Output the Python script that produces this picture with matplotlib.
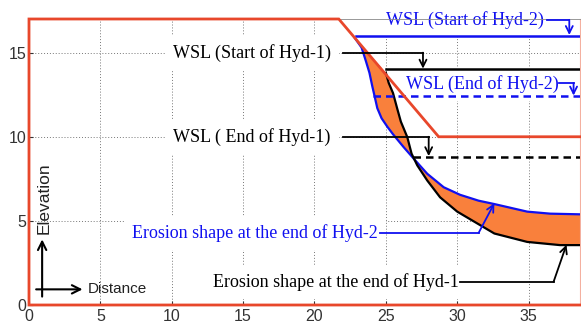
import matplotlib.pyplot as plt

# 坐标范围
x_max = 38.6
y_max = 17

# 河床线 (红色)
bed_x = [x_max, 0, 0, 21.7, 28.7, x_max]
bed_y = [0, 0, 17, 17, 10, 10]

# 水位线
wsl_start1_x = [25.0, x_max]
wsl_start1_y = [14.0, 14.0]
wsl_end1_x = [26.9, x_max]
wsl_end1_y = [8.8, 8.8]
wsl_start2_x = [22.9, x_max]
wsl_start2_y = [16.0, 16.0]
wsl_end2_x = [24.1, x_max]
wsl_end2_y = [12.4, 12.4]

# 冲刷形状 Hyd-2 (蓝色)
ero2_x = [22.8, 23.3, 23.6, 23.85, 24.05, 24.2, 24.4, 24.7, 25.1, 25.5, 26.25,
          26.95, 27.9, 29.05, 30.2, 31.5, 32.6, 34.9, 36.5, 38.6]
ero2_y = [15.9, 15.3, 14.5, 13.8, 13.0, 12.45, 11.7, 11.1, 10.6, 10.15, 9.38,
          8.7, 7.8, 7.0, 6.55, 6.2, 6.0, 5.55, 5.43, 5.39]

# 冲刷形状 Hyd-1 (黑色)
ero1_x = [25.0, 25.2, 25.5, 25.8, 26.05, 26.5, 26.8, 27.2, 27.9, 28.8, 30.0,
          31.2, 32.6, 34.9, 37.2, 38.6]
ero1_y = [13.8, 13.2, 12.6, 11.66, 10.9, 9.98, 9.0, 8.3, 7.4, 6.4, 5.55,
          4.95, 4.25, 3.75, 3.56, 3.56]

x_ticks = [0, 5, 10, 15, 20, 25, 30, 35]
y_ticks = [0, 5, 10, 15]

red = '#e8472b'
blue = '#1010f0'
orange = '#f9803c'
serif = ['Liberation Serif', 'DejaVu Serif']
sans = ['Liberation Sans', 'DejaVu Sans']

fig = plt.figure(figsize=(5.81, 3.29), dpi=100)
ax = fig.add_axes([29 / 581, 24 / 329, 551 / 581, 286 / 329])
ax.set_xlim(0, x_max)
ax.set_ylim(0, y_max)
ax.set_xticks(x_ticks)
ax.set_yticks(y_ticks)
ax.tick_params(direction='in', length=3, labelsize=11.5, colors='#333333')
ax.tick_params(axis='x', pad=3)
ax.tick_params(axis='y', pad=2)
for lab in ax.get_xticklabels() + ax.get_yticklabels():
    lab.set_family(sans)
ax.grid(True, linestyle=(0, (1, 2)), color='#777777', linewidth=0.7)
ax.set_axisbelow(True)
ax.spines['top'].set_color('#888888')
ax.spines['top'].set_linewidth(0.6)
ax.spines['right'].set_color('#f4b0a0')
ax.spines['right'].set_linewidth(0.8)
ax.spines['left'].set_visible(False)
ax.spines['bottom'].set_visible(False)

# 冲刷区域填充
poly_x = ero2_x + ero1_x[::-1] + [ero2_x[0]]
poly_y = ero2_y + ero1_y[::-1] + [ero2_y[0]]
ax.fill(poly_x, poly_y, color=orange, lw=0, zorder=2)

ax.plot(ero2_x, ero2_y, color=blue, lw=1.6, zorder=3)
ax.plot(ero1_x, ero1_y, color='black', lw=1.6, zorder=3)

ax.plot(wsl_start2_x, wsl_start2_y, color=blue, lw=1.8, zorder=3)
ax.plot(wsl_end2_x, wsl_end2_y, color=blue, lw=1.8, ls=(0, (3, 2)), zorder=3)
ax.plot(wsl_start1_x, wsl_start1_y, color='black', lw=1.8, zorder=3)
ax.plot(wsl_end1_x, wsl_end1_y, color='black', lw=1.8, ls=(0, (3, 2)), zorder=3)

ax.plot(bed_x, bed_y, color=red, lw=2, zorder=4, clip_on=False, solid_joinstyle='miter')

# 文字白底只遮住网格线
box = dict(boxstyle='square,pad=0.45', fc='white', ec='none')
txt_kw = dict(family=serif, fontsize=13, va='center', ha='left', zorder=2.5, bbox=box)
ax.text(10.1, 15.0, 'WSL (Start of Hyd-1)', color='black', **txt_kw)
ax.text(10.1, 10.0, 'WSL ( End of Hyd-1)', color='black', **txt_kw)
ax.text(25.0, 16.95, 'WSL (Start of Hyd-2)', color=blue, **txt_kw)
ax.text(26.4, 13.15, 'WSL (End of Hyd-2)', color=blue, **txt_kw)
ax.text(7.2, 4.29, 'Erosion shape at the end of Hyd-2', color=blue, **txt_kw)
ax.text(12.9, 1.38, 'Erosion shape at the end of Hyd-1', color='black', **txt_kw)


def leader(pts, tip, color):
    xs = [p[0] for p in pts]
    ys = [p[1] for p in pts]
    ax.plot(xs, ys, color=color, lw=1.3, zorder=6, clip_on=False)
    ax.annotate('', xy=tip, xytext=pts[-1], zorder=6, annotation_clip=False,
                arrowprops=dict(arrowstyle='->,head_length=0.5,head_width=0.25',
                                color=color, lw=1.3, shrinkA=0, shrinkB=0))


leader([(22.0, 15.0), (27.6, 15.0)], (27.6, 14.05), 'black')
leader([(22.0, 10.0), (28.0, 10.0)], (28.0, 8.85), 'black')
leader([(36.3, 16.95), (37.85, 16.95)], (37.85, 16.05), blue)
leader([(37.1, 13.2), (38.15, 13.2)], (38.15, 12.45), blue)
leader([(24.6, 4.29), (31.5, 4.29)], (32.6, 6.05), blue)
leader([(30.2, 1.38), (36.75, 1.38)], (37.65, 3.58), 'black')

# 坐标示意箭头
ax.annotate('', xy=(0.92, 3.9), xytext=(0.92, 0.5), zorder=6,
            arrowprops=dict(arrowstyle='->,head_length=0.6,head_width=0.3',
                            color='black', lw=1.5, shrinkA=0, shrinkB=0))
ax.annotate('', xy=(3.75, 0.93), xytext=(0.5, 0.93), zorder=6,
            arrowprops=dict(arrowstyle='->,head_length=0.6,head_width=0.3',
                            color='black', lw=1.5, shrinkA=0, shrinkB=0))
ax.text(1.05, 6.37, 'Elevation', rotation=90, family=sans, fontsize=12.5,
        ha='center', va='center', zorder=6, color='#222222')
ax.text(4.1, 0.93, 'Distance', family=sans, fontsize=11,
        ha='left', va='center', zorder=6, color='#222222')

fig.savefig('out.png', dpi=100)
